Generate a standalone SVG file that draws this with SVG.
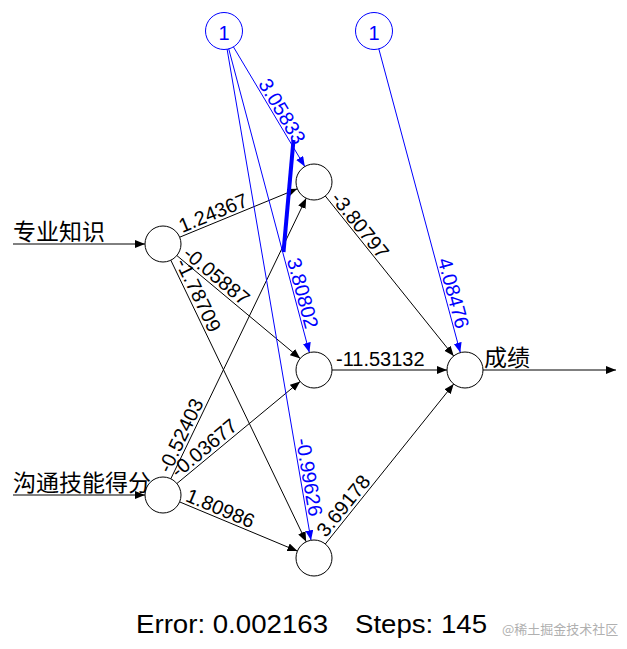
<svg xmlns="http://www.w3.org/2000/svg" width="627" height="649" viewBox="0 0 627 649">
<defs>
<style>
.k{stroke:#000;stroke-width:1;fill:none}
.b{stroke:#0000ff;stroke-width:1;fill:none}
.ka{marker-end:url(#ah)}
.ba{marker-end:url(#bh)}
.n{fill:#fff;stroke:#000;stroke-width:1}
.nb{fill:#fff;stroke:#0000ff;stroke-width:1}
.w{font-family:"Liberation Sans",Arial,sans-serif;font-size:20px;fill:#000}
.wb{font-family:"Liberation Sans",Arial,sans-serif;font-size:20px;fill:#0000ff}
.cj{font-family:"Liberation Sans","Noto Sans CJK SC",sans-serif;font-size:23px;fill:#000}
</style>
<marker id="ah" markerUnits="userSpaceOnUse" markerWidth="11" markerHeight="9" refX="10" refY="4" orient="auto"><path d="M0,0 L10,4 L0,8 z" fill="#000"/></marker>
<marker id="bh" markerUnits="userSpaceOnUse" markerWidth="11" markerHeight="9" refX="10" refY="4" orient="auto"><path d="M0,0 L10,4 L0,8 z" fill="#0000ff"/></marker>
</defs>
<rect width="627" height="649" fill="#fff"/>
<g id="connectors">
<line class="k ka" x1="13" y1="244" x2="145" y2="244"/>
<line class="k ka" x1="13" y1="495" x2="145" y2="495"/>
<line class="k ka" x1="483" y1="370" x2="616" y2="370"/>
<line class="k ka" x1="179.7" y1="237.2" x2="297.3" y2="188.8"/>
<line class="k ka" x1="176.8" y1="255.5" x2="300.2" y2="358.5"/>
<line class="k ka" x1="170.8" y1="260.2" x2="306.2" y2="541.8"/>
<line class="k ka" x1="170.8" y1="478.8" x2="306.2" y2="198.2"/>
<line class="k ka" x1="176.9" y1="483.5" x2="300.1" y2="381.5"/>
<line class="k ka" x1="179.6" y1="501.9" x2="297.4" y2="551.1"/>
<line class="b ba" x1="233.2" y1="46.5" x2="304.8" y2="166.5"/>
<line class="b ba" x1="228.6" y1="48.4" x2="309.4" y2="352.6"/>
<line class="b ba" x1="227.0" y1="48.7" x2="311.0" y2="540.3"/>
<line class="b ba" x1="378.7" y1="48.4" x2="460.3" y2="352.6"/>
<line class="k ka" x1="325.3" y1="196.0" x2="453.7" y2="356.0"/>
<line class="k ka" x1="332" y1="370" x2="447" y2="370"/>
<line class="k ka" x1="325.3" y1="544.0" x2="453.7" y2="384.0"/>
<line x1="293.5" y1="140" x2="283.5" y2="252" stroke="#0000ff" stroke-width="4"/>
<text class="w" transform="translate(182.3,232.9) rotate(-22.3)">1.24367</text>
<text class="w" transform="translate(181.8,255.8) rotate(39.84)">-0.05887</text>
<text class="w" transform="translate(175.2,262.5) rotate(64.32)">-1.78709</text>
<text class="w" transform="translate(169.8,473.9) rotate(-64.25)">-0.52403</text>
<text class="w" transform="translate(178.1,478.6) rotate(-39.62)">-0.03677</text>
<text class="w" transform="translate(184.4,500.7) rotate(22.65)">1.80986</text>
<text class="wb" transform="translate(257.7,83.7) rotate(59.2)">3.05833</text>
<text class="wb" transform="translate(286.8,260.0) rotate(75.13)">3.80802</text>
<text class="wb" transform="translate(295.8,439.4) rotate(80.31)">-0.99626</text>
<text class="wb" transform="translate(437.5,260.0) rotate(74.97)">4.08476</text>
<text class="w" transform="translate(330.0,198.7) rotate(51.23)">-3.80797</text>
<text class="w" x="336" y="366">-11.53132</text>
<text class="w" transform="translate(326.1,538.2) rotate(-51.23)">3.69178</text>
</g>
<g id="bias1"><circle class="nb" cx="224" cy="31" r="18.5"/><text class="wb" x="224" y="39.5" text-anchor="middle" font-size="21">1</text></g>
<g id="bias2"><circle class="nb" cx="374" cy="31" r="18.5"/><text class="wb" x="374" y="39.5" text-anchor="middle" font-size="21">1</text></g>
<g id="input1"><circle class="n" cx="163" cy="244" r="18"/><text class="cj" x="13" y="240">专业知识</text></g>
<g id="input2"><circle class="n" cx="163" cy="495" r="18"/><text class="cj" x="13" y="491">沟通技能得分</text></g>
<g id="hidden1"><circle class="n" cx="314" cy="182" r="18"/></g>
<g id="hidden2"><circle class="n" cx="314" cy="370" r="18"/></g>
<g id="hidden3"><circle class="n" cx="314" cy="558" r="18"/></g>
<g id="output"><circle class="n" cx="465" cy="370" r="18"/><text class="cj" x="484" y="366">成绩</text></g>
<text font-family="Liberation Sans,Arial,sans-serif" font-size="26" fill="#000"><tspan x="136" y="633" textLength="192" lengthAdjust="spacingAndGlyphs">Error: 0.002163</tspan><tspan x="355" y="633" textLength="132" lengthAdjust="spacingAndGlyphs">Steps: 145</tspan></text>
<text font-family="Noto Sans CJK SC,sans-serif" font-size="13" fill="#b0b0b0" x="502" y="634">@稀土掘金技术社区</text>
</svg>
